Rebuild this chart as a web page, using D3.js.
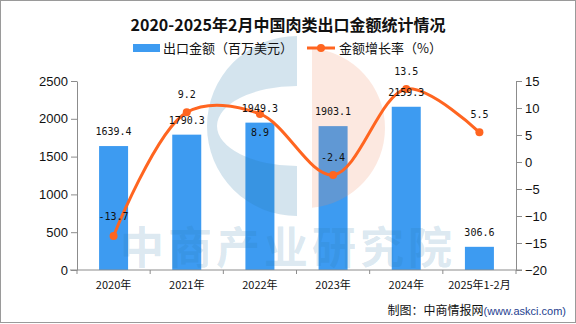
<!DOCTYPE html>
<html><head><meta charset="utf-8">
<script src="https://cdn.jsdelivr.net/npm/d3@7"></script>
<style>
html,body{margin:0;padding:0;background:#fff;}
svg{display:block;}
</style></head>
<body>
<svg id="c" width="576" height="324"></svg>
<script>
const categories = ["2020年","2021年","2022年","2023年","2024年","2025年1-2月"];
const exportValues = [1639.4, 1790.3, 1949.3, 1903.1, 2159.3, 306.6];
const growthRates = [-13.7, 9.2, 8.9, -2.4, 13.5, 5.5];
const leftTicks = [0, 500, 1000, 1500, 2000, 2500];
const rightTicks = [-20, -15, -10, -5, 0, 5, 10, 15];
const titleText = "2020-2025年2月中国肉类出口金额统计情况";
const legendBar = "出口金额（百万美元）";
const legendLine = "金额增长率（%）";
const watermarkText = "中商产业研究院";

const svg = d3.select("#c");
const W = 576, H = 324;
const m = {left: 77, right: 516, top: 81, bottom: 270};
const cjk = "'Noto Sans CJK SC','DejaVu Sans',sans-serif";
const num = "'Liberation Sans','DejaVu Sans',sans-serif";
const mono = "'DejaVu Sans Mono','Liberation Mono',monospace";

svg.append("rect").attr("x",0.5).attr("y",0.5).attr("width",W-1).attr("height",H-2)
  .attr("fill","#fff").attr("stroke","#9a9a9a");

const xOuter = d3.scaleBand().domain(categories).range([m.left, m.right]);
const yL = d3.scaleLinear().domain([0,2500]).range([m.bottom, m.top]);
const yR = d3.scaleLinear().domain([-20,15]).range([m.bottom, m.top]);

// bars
svg.append("g").selectAll("rect").data(exportValues).join("rect")
  .attr("x",(d,i)=>xOuter(categories[i]) + xOuter.bandwidth()/2 - 14.5)
  .attr("width",29)
  .attr("y",d=>yL(d)).attr("height",d=>m.bottom-yL(d))
  .attr("fill","#3d9bf1");

// watermark logo
const wm = svg.append("g");
const cx = 297, cy = 126;
wm.append("path")
  .attr("d", `M${cx},${cy-90} A90,90 0 0,0 ${cx},${cy+90} L${cx},${cy+40} A80,40 0 0,1 ${cx},${cy-40} Z`)
  .attr("fill","rgb(40,120,170)").attr("fill-opacity",0.2);
const pcx = 305, pcy = 128, pr = 80;
const dxp = 312 - pcx, dyp = Math.sqrt(pr*pr - dxp*dxp);
wm.append("path")
  .attr("d", `M312,${pcy-dyp} A${pr},${pr} 0 0,1 312,${pcy+dyp} Z`)
  .attr("fill","rgb(240,140,100)").attr("fill-opacity",0.2);
wm.append("text").attr("x",288).attr("y",264).attr("text-anchor","middle")
  .attr("font-family",cjk).attr("font-weight","bold").attr("font-size",44)
  .attr("letter-spacing",4)
  .attr("fill","rgb(40,120,170)").attr("fill-opacity",0.18).text(watermarkText);

// axes
const axisColor = "#8c8c8c";
const gL = svg.append("g").attr("transform",`translate(${m.left},0)`)
  .call(d3.axisLeft(yL).tickValues(leftTicks).tickSize(6).tickSizeOuter(0).tickPadding(3).tickFormat(d3.format("d")));
const gR = svg.append("g").attr("transform",`translate(${m.right},0)`)
  .call(d3.axisRight(yR).tickValues(rightTicks).tickSize(6).tickSizeOuter(0).tickPadding(3).tickFormat(d=>d<0?"−"+Math.abs(d):d));
[gL,gR].forEach(g=>{
  g.selectAll("path,line").attr("stroke",axisColor);
  g.selectAll("text").attr("font-family",num).attr("font-size",13).attr("fill","#111");
});

const gB = svg.append("g").attr("transform",`translate(0,${m.bottom})`);
gB.append("line").attr("x1",m.left-7).attr("x2",m.right+6).attr("stroke",axisColor);
gB.selectAll("line.t").data(d3.range(categories.length+1)).join("line").attr("class","t")
  .attr("x1",i=>m.left + i*xOuter.step()).attr("x2",i=>m.left + i*xOuter.step())
  .attr("y1",0).attr("y2",4).attr("stroke",axisColor);
gB.selectAll("text").data(categories).join("text")
  .attr("x",d=>xOuter(d)+xOuter.bandwidth()/2).attr("y",19)
  .attr("text-anchor","middle").attr("font-family",cjk).attr("font-size",11).attr("fill","#111")
  .text(d=>d);

// line
const pts = growthRates.map((v,i)=>[xOuter(categories[i])+xOuter.bandwidth()/2, yR(v)]);
svg.append("path").datum(pts)
  .attr("d", d3.line().curve(d3.curveCatmullRom.alpha(0.5)))
  .attr("fill","none").attr("stroke","#ff6520").attr("stroke-width",3);
svg.append("g").selectAll("circle").data(pts).join("circle")
  .attr("cx",d=>d[0]).attr("cy",d=>d[1]).attr("r",4).attr("fill","#ff6520");

// bar labels
svg.append("g").selectAll("text").data(exportValues).join("text")
  .attr("x",(d,i)=>xOuter(categories[i])+xOuter.bandwidth()/2)
  .attr("y",d=>yL(d)-11)
  .attr("text-anchor","middle").attr("font-family",mono).attr("font-size",10).attr("fill","#111")
  .text(d=>d.toFixed(1));

// line labels
const lineLabelOffset = [-16, -14, 22, -14, -14, -14];
svg.append("g").selectAll("text").data(growthRates).join("text")
  .attr("x",(d,i)=>pts[i][0])
  .attr("y",(d,i)=>pts[i][1]+lineLabelOffset[i])
  .attr("text-anchor","middle").attr("font-family",mono).attr("font-size",10).attr("fill","#111")
  .text(d=>d.toFixed(1));

// title
svg.append("text").attr("x",288).attr("y",31).attr("text-anchor","middle")
  .attr("font-family",cjk).attr("font-weight","bold").attr("font-size",16).attr("fill","#111")
  .text(titleText);

// legend
const lg = svg.append("g");
lg.append("rect").attr("x",133).attr("y",44).attr("width",27).attr("height",8).attr("fill","#3d9bf1");
lg.append("text").attr("x",163).attr("y",52.5).attr("font-family",cjk).attr("font-size",13).attr("fill","#111").text(legendBar);
lg.append("line").attr("x1",307).attr("x2",335).attr("y1",48).attr("y2",48).attr("stroke","#ff6520").attr("stroke-width",3);
lg.append("circle").attr("cx",321).attr("cy",48).attr("r",4).attr("fill","#ff6520");
lg.append("text").attr("x",339).attr("y",52.5).attr("font-family",cjk).attr("font-size",13).attr("fill","#111").text(legendLine);

// source
const src = svg.append("text").attr("x",566).attr("y",315).attr("text-anchor","end").attr("font-family",cjk).attr("font-size",12);
src.append("tspan").attr("fill","#111").text("制图：中商情报网");
src.append("tspan").attr("fill","#1f3f8f").attr("font-size",11).attr("font-family",num).text("(www.askci.com)");
</script>
</body></html>
